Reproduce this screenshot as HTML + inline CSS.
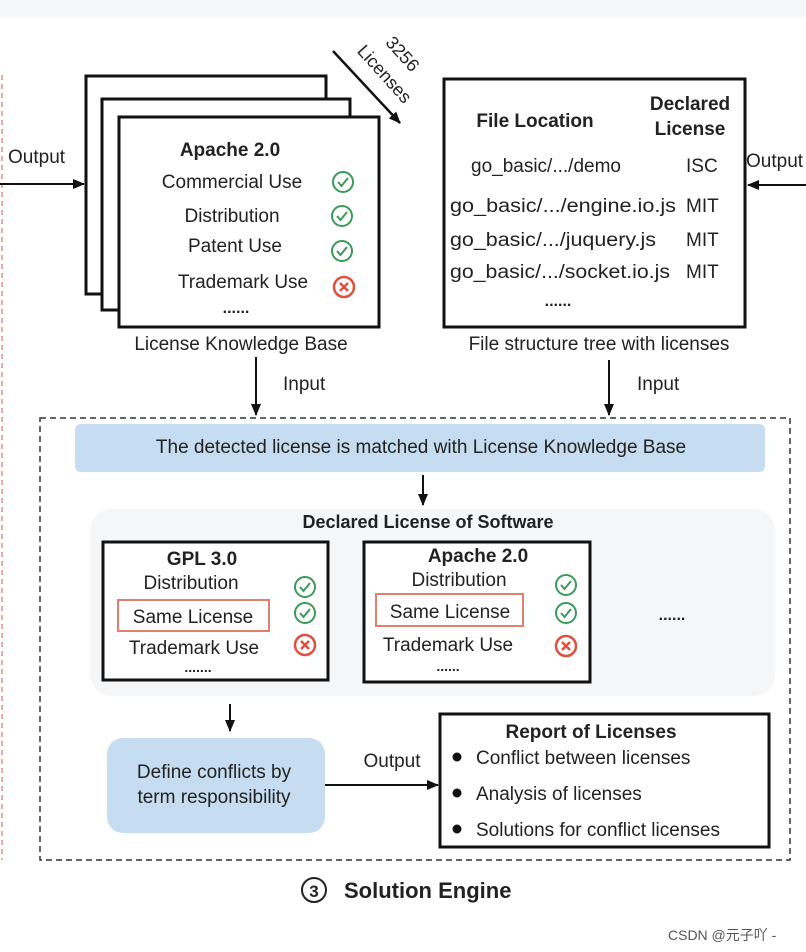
<!DOCTYPE html>
<html><head><meta charset="utf-8"><style>
html,body{margin:0;padding:0;background:#fff}
svg{display:block}
text{font-family:"Liberation Sans",sans-serif;fill:#222}
.b{font-weight:bold}
</style></head><body>
<svg width="806" height="952" viewBox="0 0 806 952" xmlns="http://www.w3.org/2000/svg">
<defs>
<marker id="ah" markerWidth="14" markerHeight="12" refX="11" refY="6" orient="auto" markerUnits="userSpaceOnUse"><path d="M0,1 L12,6 L0,11 Z" fill="#111"/></marker>
<g id="ok"><circle r="10" fill="none" stroke="#3a9a5a" stroke-width="2"/><path d="M-5,0 L-1.5,4 L5,-4" fill="none" stroke="#3a9a5a" stroke-width="2"/></g>
<g id="no"><circle r="10" fill="none" stroke="#e0503f" stroke-width="2.5"/><path d="M-4,-4 L4,4 M4,-4 L-4,4" stroke="#e0503f" stroke-width="2.5"/></g>
</defs>
<rect x="0" y="0" width="806" height="18" fill="#f6f7fa"/>
<line x1="2" y1="75" x2="2" y2="860" stroke="#e09080" stroke-width="1.5" stroke-dasharray="5,4"/>

<text x="8" y="163" font-size="19">Output</text>
<line x1="0" y1="184" x2="84" y2="184" stroke="#111" stroke-width="2" marker-end="url(#ah)"/>

<rect x="86" y="76" width="240" height="218" fill="#fff" stroke="#111" stroke-width="3"/>
<rect x="102" y="99" width="248" height="211" fill="#fff" stroke="#111" stroke-width="3"/>
<rect x="119" y="117" width="260" height="210" fill="#fff" stroke="#111" stroke-width="3"/>
<text x="230" y="156" font-size="19" class="b" text-anchor="middle">Apache 2.0</text>
<text x="232" y="188" font-size="19" text-anchor="middle">Commercial Use</text>
<text x="232" y="222" font-size="19" text-anchor="middle">Distribution</text>
<text x="235" y="252" font-size="19" text-anchor="middle">Patent Use</text>
<text x="243" y="288" font-size="19" text-anchor="middle">Trademark Use</text>
<text x="236" y="313" font-size="16" class="b" text-anchor="middle">......</text>
<use href="#ok" x="343" y="182"/><use href="#ok" x="342" y="216"/><use href="#ok" x="342" y="251"/><use href="#no" x="344" y="287"/>
<text x="241" y="350" font-size="19" text-anchor="middle">License Knowledge Base</text>

<line x1="333" y1="51" x2="400" y2="123" stroke="#111" stroke-width="2.5" marker-end="url(#ah)"/>
<text transform="translate(398,58) rotate(48)" font-size="18" text-anchor="middle">3256</text>
<text transform="translate(380,78) rotate(48)" font-size="18" text-anchor="middle">Licenses</text>

<rect x="444" y="79" width="301" height="248" fill="#fff" stroke="#111" stroke-width="3"/>
<text x="535" y="127" font-size="19" class="b" text-anchor="middle">File Location</text>
<text x="690" y="110" font-size="19" class="b" text-anchor="middle">Declared</text>
<text x="690" y="135" font-size="19" class="b" text-anchor="middle">License</text>
<text x="546" y="172" font-size="19" text-anchor="middle">go_basic/.../demo</text>
<text x="450" y="212" font-size="19" textLength="226" lengthAdjust="spacingAndGlyphs">go_basic/.../engine.io.js</text>
<text x="450" y="246" font-size="19" textLength="206" lengthAdjust="spacingAndGlyphs">go_basic/.../juquery.js</text>
<text x="450" y="278" font-size="19" textLength="220" lengthAdjust="spacingAndGlyphs">go_basic/.../socket.io.js</text>
<text x="686" y="172" font-size="19">ISC</text>
<text x="686" y="212" font-size="19">MIT</text>
<text x="686" y="246" font-size="19">MIT</text>
<text x="686" y="278" font-size="19">MIT</text>
<text x="558" y="306" font-size="16" class="b" text-anchor="middle">......</text>
<text x="599" y="350" font-size="19" text-anchor="middle">File structure tree with licenses</text>
<text x="746" y="167" font-size="19">Output</text>
<line x1="806" y1="185" x2="748" y2="185" stroke="#111" stroke-width="2" marker-end="url(#ah)"/>

<line x1="256" y1="357" x2="256" y2="415" stroke="#111" stroke-width="2" marker-end="url(#ah)"/>
<line x1="609" y1="360" x2="609" y2="415" stroke="#111" stroke-width="2" marker-end="url(#ah)"/>
<text x="283" y="390" font-size="19">Input</text>
<text x="637" y="390" font-size="19">Input</text>

<rect x="40" y="418" width="750" height="442" fill="none" stroke="#333" stroke-width="1.5" stroke-dasharray="6,4"/>
<rect x="75" y="424" width="690" height="48" rx="6" fill="#c6dcf0"/>
<text x="421" y="453" font-size="19" text-anchor="middle">The detected license is matched with License Knowledge Base</text>
<line x1="423" y1="475" x2="423" y2="505" stroke="#111" stroke-width="2" marker-end="url(#ah)"/>

<rect x="90" y="509" width="685" height="187" rx="22" fill="#f5f6f8"/>
<text x="428" y="528" font-size="18" class="b" text-anchor="middle">Declared License  of Software</text>

<rect x="103" y="542" width="225" height="138" fill="#fff" stroke="#111" stroke-width="3"/>
<text x="202" y="565" font-size="19" class="b" text-anchor="middle">GPL 3.0</text>
<text x="191" y="589" font-size="19" text-anchor="middle">Distribution</text>
<rect x="118" y="600" width="151" height="31" fill="none" stroke="#e0806a" stroke-width="2"/>
<text x="193" y="623" font-size="19" text-anchor="middle">Same License</text>
<text x="194" y="654" font-size="19" text-anchor="middle">Trademark Use</text>
<text x="198" y="672" font-size="14" class="b" text-anchor="middle">.......</text>
<use href="#ok" x="305" y="587"/><use href="#ok" x="305" y="613"/><use href="#no" x="305" y="645"/>

<rect x="364" y="542" width="226" height="140" fill="#fff" stroke="#111" stroke-width="3"/>
<text x="478" y="562" font-size="19" class="b" text-anchor="middle">Apache 2.0</text>
<text x="459" y="586" font-size="19" text-anchor="middle">Distribution</text>
<rect x="376" y="594" width="147" height="32" fill="none" stroke="#e0806a" stroke-width="2"/>
<text x="450" y="618" font-size="19" text-anchor="middle">Same License</text>
<text x="448" y="651" font-size="19" text-anchor="middle">Trademark Use</text>
<text x="448" y="671" font-size="14" class="b" text-anchor="middle">......</text>
<use href="#ok" x="566" y="585"/><use href="#ok" x="566" y="613"/><use href="#no" x="566" y="646"/>
<text x="672" y="620" font-size="16" class="b" text-anchor="middle">......</text>

<line x1="230" y1="704" x2="230" y2="731" stroke="#111" stroke-width="2" marker-end="url(#ah)"/>
<rect x="107" y="738" width="218" height="95" rx="16" fill="#c6dcf0"/>
<text x="214" y="778" font-size="19" text-anchor="middle">Define conflicts by</text>
<text x="214" y="803" font-size="19" text-anchor="middle">term responsibility</text>
<line x1="325" y1="785" x2="438" y2="785" stroke="#111" stroke-width="2" marker-end="url(#ah)"/>
<text x="392" y="767" font-size="19" text-anchor="middle">Output</text>

<rect x="440" y="714" width="329" height="133" fill="#fff" stroke="#111" stroke-width="3"/>
<text x="591" y="738" font-size="19" class="b" text-anchor="middle">Report of Licenses</text>
<circle cx="457" cy="757" r="4.5" fill="#111"/><text x="476" y="764" font-size="19">Conflict between licenses</text>
<circle cx="457" cy="793" r="4.5" fill="#111"/><text x="476" y="800" font-size="19">Analysis of licenses</text>
<circle cx="457" cy="829" r="4.5" fill="#111"/><text x="476" y="836" font-size="19">Solutions for conflict licenses</text>

<circle cx="314" cy="890" r="12" fill="none" stroke="#222" stroke-width="2"/>
<text x="314" y="897" font-size="17" class="b" text-anchor="middle">3</text>
<text x="344" y="898" font-size="22" class="b">Solution Engine</text>

<text x="668" y="940" font-size="14" style="fill:#555;font-family:'Liberation Sans','Noto Sans CJK SC',sans-serif">CSDN @元子吖 -</text>
</svg>
</body></html>
